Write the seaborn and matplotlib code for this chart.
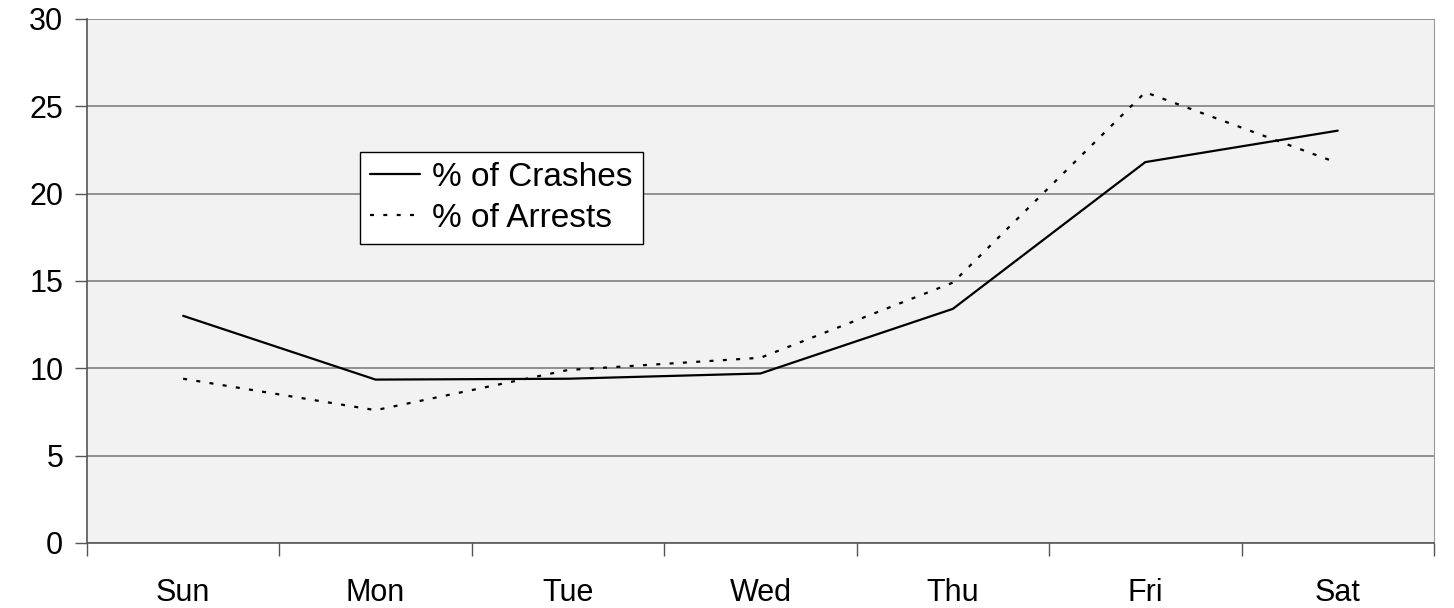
import pandas as pd
import seaborn as sns
import matplotlib.pyplot as plt
from matplotlib.ticker import FixedLocator

# Data
days = ['Sun', 'Mon', 'Tue', 'Wed', 'Thu', 'Fri', 'Sat']
crashes = [13.0, 9.35, 9.4, 9.7, 13.4, 21.8, 23.6]
arrests = [9.4, 7.6, 9.9, 10.6, 14.9, 25.8, 21.75]

df = pd.DataFrame({
    'day': days * 2,
    'pos': list(range(len(days))) * 2,
    'value': crashes + arrests,
    'series': ['% of Crashes'] * len(days) + ['% of Arrests'] * len(days),
})

sns.set_style('white')
plt.rcParams['font.family'] = ['Liberation Sans', 'DejaVu Sans']
plt.rcParams['text.color'] = 'black'
plt.rcParams['xtick.color'] = 'black'
plt.rcParams['ytick.color'] = 'black'

dots = (1.8, 4.2)

fig = plt.figure(figsize=(14.54, 6.08), dpi=100)
ax = fig.add_axes([0.0598, 0.107, 0.9264, 0.862])
ax.set_facecolor('#f2f2f2')

sns.lineplot(data=df, x='pos', y='value', style='series',
             dashes={'% of Crashes': '', '% of Arrests': dots},
             color='black', linewidth=1.6, ax=ax, legend=False)

# Legend drawn by hand so the box matches the reference
h1, = ax.plot([], [], color='black', lw=1.6, label='% of Crashes')
h2, = ax.plot([], [], color='black', lw=1.6, ls=(0, dots), label='% of Arrests')
leg = ax.legend(handles=[h1, h2], loc='upper left', bbox_to_anchor=(0.203, 0.746),
                borderaxespad=0, fontsize=24, frameon=True, fancybox=False,
                handlelength=1.5, handletextpad=0.35, borderpad=0.3,
                labelspacing=0.3)
leg.get_frame().set_edgecolor('black')
leg.get_frame().set_facecolor('white')
leg.get_frame().set_alpha(1)
leg.get_frame().set_linewidth(1)

ax.set_xlim(-0.5, len(days) - 0.5)
ax.set_ylim(0, 30)
ax.set_yticks(range(0, 31, 5))
ax.yaxis.grid(True, color='#808080', linewidth=1.2)
ax.set_axisbelow(True)

ax.set_xticks(range(len(days)))
ax.set_xticklabels(days)
ax.xaxis.set_minor_locator(FixedLocator([i - 0.5 for i in range(len(days) + 1)]))
ax.tick_params(axis='x', which='major', length=0, pad=25, labelsize=22)
ax.tick_params(axis='x', which='minor', length=9, width=1, color='#555555', direction='out', bottom=True)
ax.tick_params(axis='y', length=9, width=1, color='#555555', direction='out', left=True, labelsize=22, pad=8)

ax.set_xlabel('')
ax.set_ylabel('')
for side in ['left', 'bottom']:
    ax.spines[side].set_color('#555555')
    ax.spines[side].set_linewidth(1.2)
ax.spines['right'].set_color('#999999')
ax.spines['top'].set_visible(False)

fig.savefig('out.png', dpi=100)
